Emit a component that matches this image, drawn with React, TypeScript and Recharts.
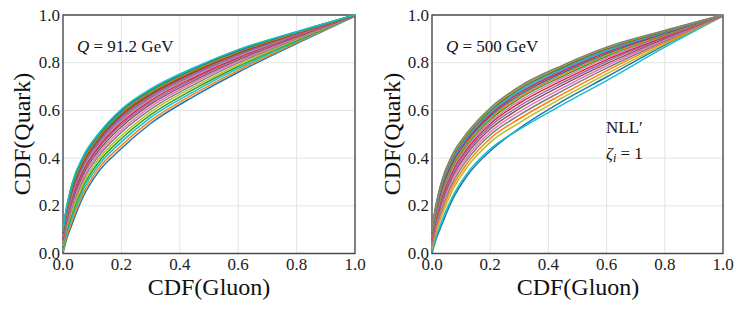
import React from 'react'
import { LineChart, Line, XAxis, YAxis, CartesianGrid, ReferenceArea } from 'recharts'

// CDF(Gluon) sample points, shared by every curve
const gluonCdf = [0, 0.01, 0.03, 0.07, 0.12, 0.2, 0.3, 0.45, 0.6, 0.8, 1.0]
const axisTicks = [0, 0.2, 0.4, 0.6, 0.8, 1.0]

// CDF(Quark) for Q = 91.2 GeV, bottom curve first
const quark91 = [
  [0, 0.05, 0.12, 0.24, 0.34, 0.44, 0.545, 0.66, 0.76, 0.88, 0.995],
  [0.008, 0.06, 0.134, 0.254, 0.353, 0.453, 0.557, 0.67, 0.768, 0.884, 0.995],
  [0.017, 0.072, 0.149, 0.269, 0.367, 0.468, 0.57, 0.68, 0.776, 0.889, 0.996],
  [0.025, 0.083, 0.163, 0.283, 0.38, 0.481, 0.581, 0.69, 0.784, 0.893, 0.996],
  [0.033, 0.093, 0.176, 0.296, 0.393, 0.494, 0.593, 0.7, 0.791, 0.897, 0.997],
  [0.041, 0.103, 0.19, 0.31, 0.406, 0.508, 0.604, 0.709, 0.799, 0.901, 0.997],
  [0.048, 0.112, 0.202, 0.322, 0.417, 0.519, 0.615, 0.718, 0.806, 0.904, 0.997],
  [0.055, 0.122, 0.214, 0.334, 0.428, 0.531, 0.625, 0.726, 0.812, 0.908, 0.998],
  [0.061, 0.129, 0.224, 0.344, 0.438, 0.541, 0.633, 0.733, 0.818, 0.911, 0.998],
  [0.066, 0.136, 0.232, 0.352, 0.446, 0.549, 0.641, 0.739, 0.823, 0.913, 0.998],
  [0.071, 0.142, 0.241, 0.361, 0.454, 0.557, 0.648, 0.745, 0.827, 0.916, 0.999],
  [0.075, 0.148, 0.248, 0.368, 0.46, 0.564, 0.654, 0.75, 0.831, 0.918, 0.999],
  [0.079, 0.153, 0.254, 0.374, 0.466, 0.57, 0.66, 0.755, 0.835, 0.92, 0.999],
  [0.083, 0.158, 0.261, 0.381, 0.473, 0.577, 0.665, 0.76, 0.839, 0.922, 0.999],
  [0.086, 0.162, 0.266, 0.386, 0.478, 0.582, 0.67, 0.763, 0.842, 0.923, 0.999],
  [0.089, 0.166, 0.271, 0.391, 0.482, 0.587, 0.674, 0.767, 0.845, 0.925, 1.0],
  [0.092, 0.17, 0.276, 0.396, 0.487, 0.592, 0.678, 0.77, 0.847, 0.926, 1.0],
  [0.095, 0.174, 0.282, 0.402, 0.492, 0.597, 0.683, 0.774, 0.85, 0.928, 1.0],
  [0.098, 0.177, 0.286, 0.406, 0.496, 0.601, 0.686, 0.777, 0.853, 0.929, 1.0],
  [0.1, 0.18, 0.29, 0.41, 0.5, 0.605, 0.69, 0.78, 0.855, 0.93, 1.0],
]

// CDF(Quark) for Q = 500 GeV
const quark500 = [
  [0, 0.045, 0.11, 0.225, 0.325, 0.43, 0.525, 0.64, 0.74, 0.874, 0.995],
  [0.008, 0.055, 0.125, 0.238, 0.335, 0.438, 0.52, 0.625, 0.725, 0.865, 0.995],
  [0.02, 0.072, 0.146, 0.263, 0.361, 0.466, 0.548, 0.654, 0.753, 0.879, 0.996],
  [0.029, 0.084, 0.162, 0.28, 0.377, 0.482, 0.565, 0.669, 0.766, 0.885, 0.997],
  [0.037, 0.095, 0.177, 0.295, 0.392, 0.497, 0.58, 0.683, 0.777, 0.891, 0.997],
  [0.044, 0.104, 0.189, 0.309, 0.404, 0.509, 0.594, 0.695, 0.787, 0.896, 0.997],
  [0.051, 0.114, 0.202, 0.322, 0.417, 0.522, 0.607, 0.707, 0.796, 0.901, 0.998],
  [0.057, 0.122, 0.213, 0.333, 0.428, 0.533, 0.618, 0.717, 0.805, 0.905, 0.998],
  [0.063, 0.13, 0.223, 0.345, 0.438, 0.543, 0.63, 0.727, 0.813, 0.909, 0.998],
  [0.068, 0.137, 0.232, 0.354, 0.447, 0.552, 0.639, 0.736, 0.82, 0.913, 0.998],
  [0.073, 0.144, 0.241, 0.364, 0.456, 0.561, 0.649, 0.744, 0.827, 0.916, 0.999],
  [0.077, 0.149, 0.249, 0.371, 0.464, 0.569, 0.656, 0.751, 0.833, 0.919, 0.999],
  [0.081, 0.154, 0.256, 0.379, 0.471, 0.576, 0.664, 0.758, 0.838, 0.922, 0.999],
  [0.085, 0.16, 0.263, 0.387, 0.478, 0.583, 0.672, 0.765, 0.844, 0.925, 0.999],
  [0.088, 0.164, 0.268, 0.392, 0.483, 0.588, 0.677, 0.77, 0.848, 0.927, 0.999],
  [0.091, 0.168, 0.274, 0.398, 0.489, 0.594, 0.683, 0.775, 0.852, 0.929, 1.0],
  [0.094, 0.172, 0.279, 0.404, 0.494, 0.599, 0.689, 0.78, 0.857, 0.931, 1.0],
  [0.096, 0.175, 0.283, 0.407, 0.498, 0.603, 0.692, 0.783, 0.859, 0.932, 1.0],
  [0.098, 0.177, 0.286, 0.411, 0.501, 0.606, 0.696, 0.787, 0.862, 0.934, 1.0],
  [0.1, 0.18, 0.29, 0.415, 0.505, 0.61, 0.7, 0.79, 0.865, 0.935, 1.0],
]

const colors91 = [
  '#1f77b4', '#ff7f0e', '#17becf', '#2ca02c', '#bcbd22', '#7f7f7f', '#e377c2', '#8c564b', '#9467bd', '#d62728',
  '#e377c2', '#7f7f7f', '#9467bd', '#8c564b', '#d62728', '#2ca02c', '#ff7f0e', '#1f77b4', '#2ca02c', '#17becf',
]
const colors500 = [
  '#1f77b4', '#17becf', '#bcbd22', '#ff7f0e', '#7f7f7f', '#e377c2', '#8c564b', '#9467bd', '#d62728', '#e377c2',
  '#2ca02c', '#ff7f0e', '#1f77b4', '#d62728', '#9467bd', '#17becf', '#2ca02c', '#8c564b', '#bcbd22', '#7f7f7f',
]

const FONT = '"Liberation Serif", "DejaVu Serif", serif'
const FRAME = '#4a4a4a'

const XTick = ({ x, y, payload }: any) => (
  <text x={x} y={y} dy={13.5} textAnchor="middle" fontFamily={FONT} fontSize={17} fill="#222">
    {Number(payload.value).toFixed(1)}
  </text>
)

const YTick = ({ x, y, payload }: any) => (
  <text x={x} y={y} dy={5.5} textAnchor="end" fontFamily={FONT} fontSize={17} fill="#222">
    {Number(payload.value).toFixed(1)}
  </text>
)

function Panel({ curves, colors, width, right }: { curves: number[][]; colors: string[]; width: number; right: number }) {
  const rows = gluonCdf.map((g, i) => {
    const row: Record<string, number> = { g }
    curves.forEach((c, k) => { row['c' + k] = c[i] })
    return row
  })
  return (
    <LineChart width={width} height={312} data={rows} margin={{ top: 15, right, bottom: 0, left: 0 }}>
      <CartesianGrid stroke="#e4e4e4" strokeWidth={1} horizontalValues={[0.2, 0.4, 0.6, 0.8]} verticalValues={[0.2, 0.4, 0.6, 0.8]} />
      <XAxis
        dataKey="g"
        type="number"
        domain={[0, 1]}
        ticks={axisTicks}
        height={58.5}
        axisLine={false}
        tickLine={false}
        tickSize={0}
        tickMargin={3}
        tick={<XTick />}
        interval={0}
      />
      <YAxis
        type="number"
        domain={[0, 1]}
        ticks={axisTicks}
        width={63}
        axisLine={false}
        tickLine={false}
        tickSize={0}
        tickMargin={3}
        tick={<YTick />}
        interval={0}
      />
      {curves.map((_, k) => (
        <Line
          key={k}
          type="monotone"
          dataKey={'c' + k}
          stroke={colors[k]}
          strokeWidth={1.5}
          dot={false}
          isAnimationActive={false}
        />
      ))}
      <ReferenceArea x1={0} x2={1} y1={0} y2={1} fill="none" stroke={FRAME} strokeWidth={1.4} ifOverflow="visible" />
    </LineChart>
  )
}

export default function App() {
  return (
    <div style={{ position: 'absolute', left: 0, top: 0, width: 747, height: 312, background: '#fff' }}>
      <div style={{ position: 'absolute', left: 0, top: 0 }}>
        <Panel curves={quark91} colors={colors91} width={370} right={15} />
      </div>
      <div style={{ position: 'absolute', left: 369, top: 0 }}>
        <Panel curves={quark500} colors={colors500} width={378} right={24} />
      </div>
      <svg width={747} height={312} style={{ position: 'absolute', left: 0, top: 0, pointerEvents: 'none' }}>
        <g fontFamily={FONT} fill="#111">
          <text x={209} y={295} fontSize={24} textAnchor="middle">CDF(Gluon)</text>
          <text x={578} y={295} fontSize={24} textAnchor="middle">CDF(Gluon)</text>
          <text x={30} y={134} fontSize={24} textAnchor="middle" transform="rotate(-90, 30, 134)">CDF(Quark)</text>
          <text x={400} y={134} fontSize={24} textAnchor="middle" transform="rotate(-90, 400, 134)">CDF(Quark)</text>
          <text x={77} y={52} fontSize={17}>
            <tspan fontStyle="italic">Q</tspan> = 91.2 GeV
          </text>
          <text x={446} y={52} fontSize={17}>
            <tspan fontStyle="italic">Q</tspan> = 500 GeV
          </text>
          <text x={606} y={133} fontSize={17}>NLL′</text>
          <text x={606} y={159} fontSize={17}>
            <tspan fontStyle="italic">ζ</tspan>
            <tspan fontStyle="italic" fontSize={12} dy={3}>i</tspan>
            <tspan dy={-3}> = 1</tspan>
          </text>
        </g>
      </svg>
    </div>
  )
}
